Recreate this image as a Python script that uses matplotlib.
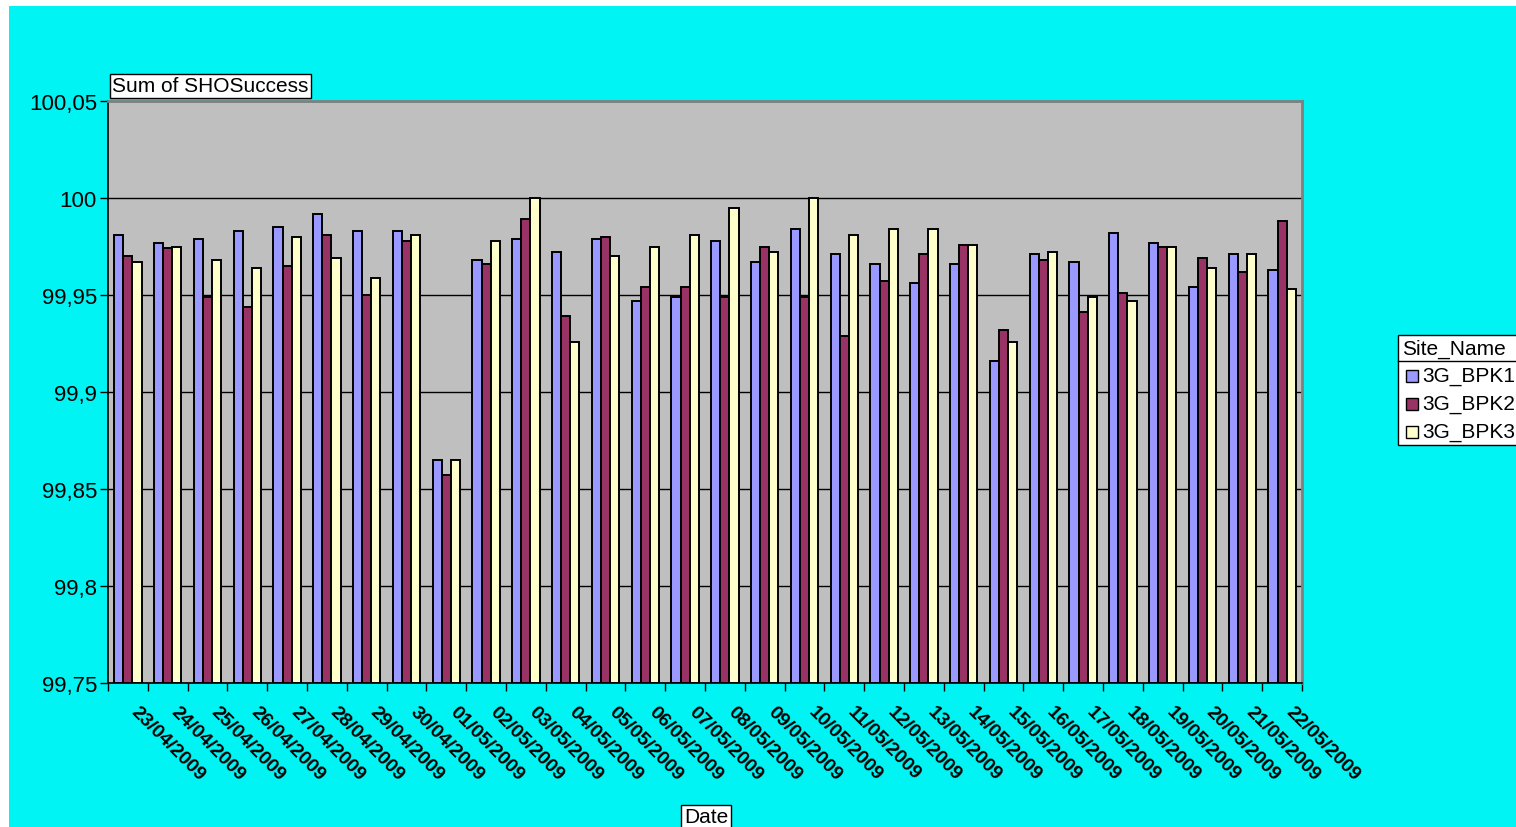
import numpy as np
import matplotlib.pyplot as plt
import matplotlib.transforms as mtransforms
from matplotlib.patches import Rectangle
from matplotlib.ticker import FuncFormatter, MultipleLocator

plt.rcParams['font.family'] = ['Liberation Sans', 'DejaVu Sans']

# ================= DATA =================
dates = ["23/04/2009", "24/04/2009", "25/04/2009", "26/04/2009", "27/04/2009",
         "28/04/2009", "29/04/2009", "30/04/2009", "01/05/2009", "02/05/2009",
         "03/05/2009", "04/05/2009", "05/05/2009", "06/05/2009", "07/05/2009",
         "08/05/2009", "09/05/2009", "10/05/2009", "11/05/2009", "12/05/2009",
         "13/05/2009", "14/05/2009", "15/05/2009", "16/05/2009", "17/05/2009",
         "18/05/2009", "19/05/2009", "20/05/2009", "21/05/2009", "22/05/2009"]

sites = ["3G_BPK1", "3G_BPK2", "3G_BPK3"]

bpk1 = [99.981, 99.977, 99.979, 99.983, 99.985, 99.992, 99.983, 99.983, 99.865, 99.968,
        99.979, 99.972, 99.979, 99.947, 99.949, 99.978, 99.967, 99.984, 99.971, 99.966,
        99.956, 99.966, 99.916, 99.971, 99.967, 99.982, 99.977, 99.954, 99.971, 99.963]
bpk2 = [99.970, 99.974, 99.949, 99.944, 99.965, 99.981, 99.950, 99.978, 99.857, 99.966,
        99.989, 99.939, 99.980, 99.954, 99.954, 99.949, 99.975, 99.949, 99.929, 99.957,
        99.971, 99.976, 99.932, 99.968, 99.941, 99.951, 99.975, 99.969, 99.962, 99.988]
bpk3 = [99.967, 99.975, 99.968, 99.964, 99.980, 99.969, 99.959, 99.981, 99.865, 99.978,
        100.000, 99.926, 99.970, 99.975, 99.981, 99.995, 99.972, 100.000, 99.981, 99.984,
        99.984, 99.976, 99.926, 99.972, 99.949, 99.947, 99.975, 99.964, 99.971, 99.953]

y_min, y_max, y_step = 99.75, 100.05, 0.05

colors = ["#9999FF", "#993366", "#FFFFCC"]

# ================= FIGURE =================
W, H = 1516, 828
fig = plt.figure(figsize=(W / 100, H / 100), dpi=100, facecolor="white")

# slide background
fig.patches.append(Rectangle((9 / W, 0), 1 - 9 / W, 1 - 7 / H, transform=fig.transFigure,
                             facecolor="#00F4F4", edgecolor="none", zorder=-10))

ax = fig.add_axes([108 / W, 1 - 684 / H, (1302 - 108) / W, (684 - 102) / H])
ax.set_facecolor("#BFBFBF")

n = len(dates)
centers = np.arange(n) + 0.5
bw = 0.23
for k, (vals, c, name) in enumerate(zip([bpk1, bpk2, bpk3], colors, sites)):
    ax.bar(centers + (k - 1) * bw, np.array(vals) - y_min, bottom=y_min, width=bw,
           color=c, edgecolor="black", linewidth=1.4, label=name, zorder=3)

ax.set_xlim(0, n)
ax.set_ylim(y_min, y_max)

# y axis
ax.yaxis.set_major_locator(MultipleLocator(y_step))
ax.yaxis.set_major_formatter(FuncFormatter(
    lambda v, p: ("%.2f" % v).rstrip("0").rstrip(".").replace(".", ",")))
ax.grid(axis="y", color="black", linewidth=1.0, zorder=1)
ax.tick_params(axis="y", direction="out", length=6, width=1, labelsize=16, pad=2)

# x axis: ticks at category boundaries, labels at centres
ax.set_xticks(np.arange(n + 1))
ax.set_xticklabels([])
ax.set_xticks(centers, minor=True)
ax.set_xticklabels(dates, minor=True, rotation=-45, rotation_mode="anchor",
                   ha="left", va="top", fontsize=14, fontweight="bold")
ax.tick_params(axis="x", which="major", direction="out", length=6, width=1)
ax.tick_params(axis="x", which="minor", length=0, pad=14)
shift = mtransforms.ScaledTranslation(0.12, 0, fig.dpi_scale_trans)
for lbl in ax.get_xticklabels(minor=True):
    lbl.set_transform(lbl.get_transform() + shift)

for s in ["left", "bottom"]:
    ax.spines[s].set_color("black")
    ax.spines[s].set_linewidth(1.2)
for s in ["top", "right"]:
    ax.spines[s].set_color("#808080")
    ax.spines[s].set_linewidth(2)

# field buttons
fig.text(112 / W, 1 - 87 / H, "Sum of SHOSuccess", fontsize=15, ha="left", va="center",
         bbox=dict(boxstyle="square,pad=0.12", facecolor="white", edgecolor="black", linewidth=1))
fig.text(706 / W, 1 - 818 / H, "Date", fontsize=15, ha="center", va="center",
         bbox=dict(boxstyle="square,pad=0.12", facecolor="white", edgecolor="black", linewidth=1))

# legend box
lx0, ly0, lx1, ly1 = 1398, 336, 1530, 446
fig.patches.append(Rectangle((lx0 / W, 1 - ly1 / H), (lx1 - lx0) / W, (ly1 - ly0) / H,
                             transform=fig.transFigure, facecolor="white",
                             edgecolor="black", linewidth=1, zorder=5))
fig.lines.append(plt.Line2D([lx0 / W, 1], [1 - 362 / H, 1 - 362 / H], transform=fig.transFigure,
                            color="black", linewidth=1, zorder=6))
fig.text(1402 / W, 1 - 349 / H, "Site_Name", fontsize=15, ha="left", va="center", zorder=7)
for k, (name, c) in enumerate(zip(sites, colors)):
    yc = 377 + k * 28
    fig.patches.append(Rectangle((1406 / W, 1 - (yc + 6) / H), 12 / W, 12 / H,
                                 transform=fig.transFigure, facecolor=c,
                                 edgecolor="black", linewidth=1, zorder=7))
    fig.text(1422 / W, 1 - yc / H, name, fontsize=15, ha="left", va="center", zorder=7)

fig.savefig("out.png", dpi=100, facecolor=fig.get_facecolor())
